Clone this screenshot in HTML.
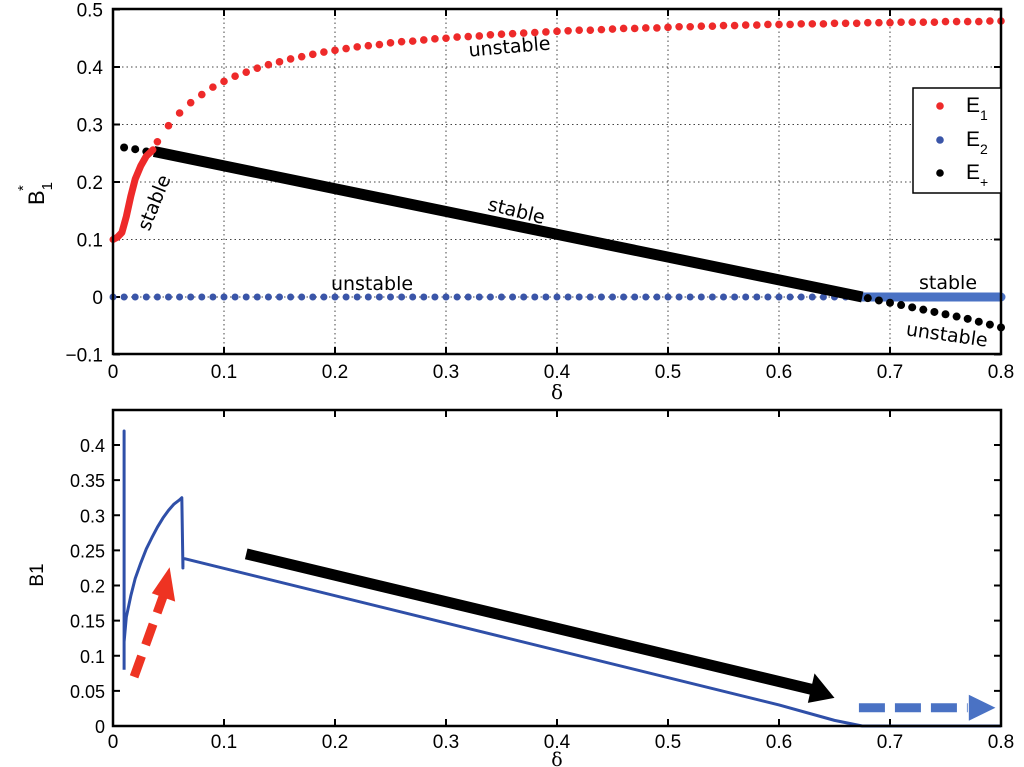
<!DOCTYPE html>
<html><head><meta charset="utf-8"><style>
html,body{margin:0;padding:0;background:#fff;width:1024px;height:767px;overflow:hidden}
svg{display:block;font-family:"Liberation Sans",sans-serif}
</style></head><body>
<svg id="c" width="1024" height="767"></svg>
<script>
const xTicks=[0,0.1,0.2,0.3,0.4,0.5,0.6,0.7,0.8];
const xTickLabels=["0","0.1","0.2","0.3","0.4","0.5","0.6","0.7","0.8"];
const topYTicks=[-0.1,0,0.1,0.2,0.3,0.4,0.5];
const topYTickLabels=["\u22120.1","0","0.1","0.2","0.3","0.4","0.5"];
const botYTicks=[0,0.05,0.1,0.15,0.2,0.25,0.3,0.35,0.4];
const botYTickLabels=["0","0.05","0.1","0.15","0.2","0.25","0.3","0.35","0.4"];
// E1 unstable dots, delta 0.04..0.80 step 0.01
const e1Start=0.04;
const e1Values=[0.270,0.298,0.320,0.338,0.352,0.365,0.375,0.384,0.391,0.398,0.404,0.409,0.414,0.418,0.422,0.426,0.429,0.432,0.435,0.437,0.439,0.442,0.444,0.445,0.447,0.449,0.450,0.452,0.453,0.454,0.456,0.457,0.458,0.459,0.460,0.461,0.462,0.463,0.464,0.464,0.465,0.466,0.467,0.467,0.468,0.468,0.469,0.470,0.470,0.471,0.471,0.472,0.472,0.473,0.473,0.474,0.474,0.474,0.475,0.475,0.475,0.476,0.476,0.476,0.477,0.477,0.477,0.478,0.478,0.478,0.478,0.479,0.479,0.479,0.479,0.480,0.480];
// E1 stable curve
const e1StableX=[0,0.004,0.008,0.012,0.016,0.02,0.025,0.03,0.036];
const e1StableY=[0.100,0.104,0.112,0.140,0.175,0.205,0.228,0.245,0.256];
// E+ unstable dots (left)
const epLeftX=[0.01,0.02,0.03];
const epLeftY=[0.260,0.257,0.253];
// E+ stable line
const epStableX=[0.037,0.675];
const epStableY=[0.253,0.0];
// E+ unstable dots (right)
const epRightX=[0.68,0.69,0.70,0.71,0.72,0.73,0.74,0.75,0.76,0.77,0.78,0.79,0.80];
const epRightY=[-0.002,-0.006,-0.010,-0.014,-0.018,-0.022,-0.026,-0.030,-0.034,-0.038,-0.043,-0.048,-0.053];
// E2 unstable dots 0..0.67, stable line 0.675..0.8
const e2DotX=[0,0.01,0.02,0.03,0.04,0.05,0.06,0.07,0.08,0.09,0.1,0.11,0.12,0.13,0.14,0.15,0.16,0.17,0.18,0.19,0.2,0.21,0.22,0.23,0.24,0.25,0.26,0.27,0.28,0.29,0.3,0.31,0.32,0.33,0.34,0.35,0.36,0.37,0.38,0.39,0.4,0.41,0.42,0.43,0.44,0.45,0.46,0.47,0.48,0.49,0.5,0.51,0.52,0.53,0.54,0.55,0.56,0.57,0.58,0.59,0.6,0.61,0.62,0.63,0.64,0.65,0.66,0.67];
const e2Value=0;
const e2StableX=[0.675,0.8];
// bottom simulated trajectory
const simX=[0.01,0.01,0.01,0.012,0.016,0.02,0.025,0.03,0.035,0.04,0.045,0.05,0.055,0.06,0.062,0.063,0.063,0.065,0.6,0.65,0.675,0.8];
const simY=[0.08,0.42,0.12,0.155,0.185,0.21,0.232,0.252,0.268,0.283,0.296,0.307,0.316,0.322,0.325,0.225,0.238,0.238,0.03,0.008,0,0];

const svg=document.getElementById('c');
const NS='http://www.w3.org/2000/svg';
function mk(tag,attrs,parent){const e=document.createElementNS(NS,tag);for(const k in attrs)e.setAttribute(k,attrs[k]);(parent||svg).appendChild(e);return e;}
const X0=113,X1=1001;
const xs=d=>X0+(d/0.8)*(X1-X0);
const ysT=v=>297-v*575;
const ysB=v=>726-v*(726-445)/0.4;

// ---- top panel
const gT=mk('g',{});


xTicks.forEach((t,i)=>{
  if(i>0&&i<xTicks.length-1){const l=mk('line',{x1:xs(t),x2:xs(t),y1:9,y2:354,stroke:'#444','stroke-width':1,'stroke-dasharray':'1.5,3'},gT);}
  mk('line',{x1:xs(t),x2:xs(t),y1:354,y2:347,stroke:'#000','stroke-width':2},gT);
  mk('line',{x1:xs(t),x2:xs(t),y1:9,y2:16,stroke:'#000','stroke-width':2},gT);
  const tx=mk('text',{x:xs(t),y:378,'text-anchor':'middle','font-size':19},gT);tx.textContent=xTickLabels[i];
  
});
topYTicks.forEach((t,i)=>{
  if(i>0&&i<topYTicks.length-1){const l=mk('line',{x1:X0,x2:X1,y1:ysT(t),y2:ysT(t),stroke:'#444','stroke-width':1,'stroke-dasharray':'1.5,3'},gT);}
  mk('line',{x1:X0,x2:X0+7,y1:ysT(t),y2:ysT(t),stroke:'#000','stroke-width':2},gT);
  mk('line',{x1:X1,x2:X1-7,y1:ysT(t),y2:ysT(t),stroke:'#000','stroke-width':2},gT);
  const tx=mk('text',{x:103,y:ysT(t)+7,'text-anchor':'end','font-size':19},gT);tx.textContent=topYTickLabels[i];
  
});
// series
e2DotX.forEach(d=>{const c=mk('circle',{cx:xs(d),cy:ysT(e2Value),r:3.5,fill:'#3a55a8'},gT);});
const e2s=mk('line',{x1:xs(e2StableX[0]),x2:xs(e2StableX[1]),y1:ysT(e2Value),y2:ysT(e2Value),stroke:'#4a72c4','stroke-width':9,'stroke-linecap':'round'},gT);

const eps=mk('line',{x1:xs(epStableX[0]),x2:xs(epStableX[1]),y1:ysT(epStableY[0]),y2:ysT(epStableY[1]),stroke:'#000','stroke-width':11},gT);

epLeftX.forEach((d,i)=>{const c=mk('circle',{cx:xs(d),cy:ysT(epLeftY[i]),r:4,fill:'#000'},gT);});
epRightX.forEach((d,i)=>{const c=mk('circle',{cx:xs(d),cy:ysT(epRightY[i]),r:4,fill:'#000'},gT);});
e1Values.forEach((v,i)=>{const d=e1Start+i*0.01;const c=mk('circle',{cx:xs(d),cy:ysT(v),r:3.8,fill:'#ee2a2a'},gT);});
const e1p=mk('polyline',{points:e1StableX.map((d,i)=>xs(d)+','+ysT(e1StableY[i])).join(' '),fill:'none',stroke:'#ee2a2a','stroke-width':7,'stroke-linecap':'round','stroke-linejoin':'round'},gT);

mk('rect',{x:X0,y:9,width:X1-X0,height:345,fill:'none',stroke:'#000','stroke-width':2.5},gT);
// annotations
function ann(txt,x,y,rot,name){const t=mk('text',{x:x,y:y,'font-size':19,'text-anchor':'middle',transform:`rotate(${rot} ${x} ${y})`,'font-family':'"DejaVu Sans",sans-serif'},gT);t.textContent=txt;}
ann('unstable',510,53,-5,'e1-unstable-label');
ann('stable',160,205,-68,'e1-stable-label');
ann('stable',515,217,14,'eplus-stable-label');
ann('unstable',372,290,0,'e2-unstable-label');
ann('stable',948,289,0,'e2-stable-label');
ann('unstable',946,341,8,'eplus-unstable-label');
// axis labels
const xl=mk('text',{x:557,y:399,'text-anchor':'middle','font-size':20,'font-family':'"DejaVu Serif",serif'},gT);xl.textContent='δ';
const yl=mk('text',{x:0,y:0,'font-size':22,transform:'translate(44,205) rotate(-90)'},gT);
yl.innerHTML='B<tspan dy="8" font-size="15">1</tspan><tspan dx="-9" dy="-24" font-size="15">*</tspan>';

// legend
const lg=mk('g',{},gT);
mk('rect',{x:913,y:88,width:88,height:105,fill:'#fff',stroke:'#000','stroke-width':1.5},lg);
[['#ee2a2a','1',106],['#3a55a8','2',140],['#000','+',173]].forEach(([col,sub,y],i)=>{
  const e=mk('circle',{cx:940,cy:y,r:3.8,fill:col},lg);
  const t=mk('text',{x:966,y:y+6,'font-size':21},lg);t.innerHTML='E<tspan dy="8" font-size="14">'+sub+'</tspan>';
  
});

// ---- bottom panel
const gB=mk('g',{});

xTicks.forEach((t,i)=>{
  mk('line',{x1:xs(t),x2:xs(t),y1:726,y2:719,stroke:'#000','stroke-width':2},gB);
  mk('line',{x1:xs(t),x2:xs(t),y1:410,y2:417,stroke:'#000','stroke-width':2},gB);
  const tx=mk('text',{x:xs(t),y:748,'text-anchor':'middle','font-size':19},gB);tx.textContent=xTickLabels[i];
  
});
botYTicks.forEach((t,i)=>{
  mk('line',{x1:X0,x2:X0+7,y1:ysB(t),y2:ysB(t),stroke:'#000','stroke-width':2},gB);
  mk('line',{x1:X1,x2:X1-7,y1:ysB(t),y2:ysB(t),stroke:'#000','stroke-width':2},gB);
  const tx=mk('text',{x:105,y:ysB(t)+7,'text-anchor':'end','font-size':18},gB);tx.textContent=botYTickLabels[i];
  
});
const sim=mk('polyline',{points:simX.map((d,i)=>xs(d)+','+ysB(simY[i])).join(' '),fill:'none',stroke:'#2f4fa8','stroke-width':3,'stroke-linejoin':'round'},gB);

// arrows
const a1=mk('line',{x1:xs(0.019),y1:ysB(0.07),x2:xs(0.045),y2:ysB(0.184),stroke:'#ee3322','stroke-width':9,'stroke-dasharray':'22,12'},gB);

mk('polygon',{points:`${xs(0.035)},${ysB(0.189)} ${xs(0.056)},${ysB(0.177)} ${xs(0.051)},${ysB(0.226)}`,fill:'#ee3322'},gB);
const a2=mk('line',{x1:xs(0.12),y1:ysB(0.245),x2:xs(0.63),y2:ysB(0.052),stroke:'#000','stroke-width':11},gB);

mk('polygon',{points:`${xs(0.632)},${ysB(0.075)} ${xs(0.65)},${ysB(0.04)} ${xs(0.626)},${ysB(0.033)}`,fill:'#000'},gB);
const a3=mk('line',{x1:xs(0.672),y1:ysB(0.026),x2:xs(0.77),y2:ysB(0.026),stroke:'#4a72c4','stroke-width':9,'stroke-dasharray':'26,10'},gB);

mk('polygon',{points:`${xs(0.771)},${ysB(0.026)-13} ${xs(0.795)},${ysB(0.026)} ${xs(0.771)},${ysB(0.026)+13}`,fill:'#4a72c4'},gB);
mk('rect',{x:X0,y:410,width:X1-X0,height:316,fill:'none',stroke:'#000','stroke-width':2.5},gB);
const xl2=mk('text',{x:557,y:766,'text-anchor':'middle','font-size':19,'font-family':'"DejaVu Serif",serif'},gB);xl2.textContent='δ';

const yl2=mk('text',{x:0,y:0,'font-size':19,'text-anchor':'middle',transform:'translate(43,575) rotate(-90)'},gB);yl2.textContent='B1';

</script>
</body></html>
